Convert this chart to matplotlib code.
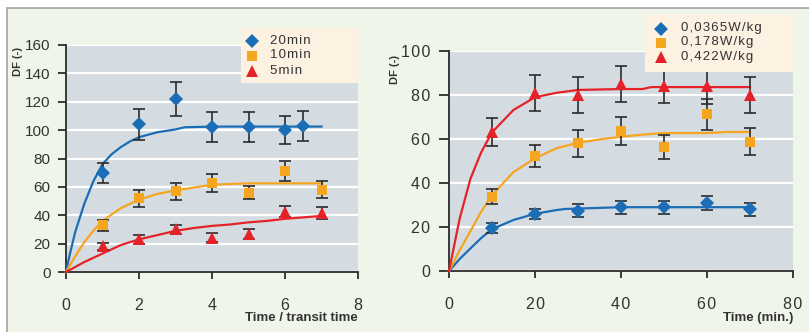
import numpy as np
import matplotlib.pyplot as plt
from matplotlib.patches import Rectangle

plt.rcParams['font.family'] = ['Liberation Sans', 'DejaVu Sans']

# ---------------- left panel: DF vs time / transit time ----------------
t_pts = [1, 2, 3, 4, 5, 6, 7]
t20 = [1, 2, 3, 4, 5, 6, 6.5]
df20 = [70, 104, 122, 102, 102, 100, 103]
err20 = [7, 11, 12, 10.5, 10.5, 10, 10.5]
df10 = [33, 52, 57, 63, 56, 71, 58]
err10 = [4, 6, 6, 6.3, 4.5, 7, 6]
df5 = [18, 23, 30, 24, 26.5, 42.5, 41.5]
err5 = [2.7, 3.3, 3.3, 3.2, 3.5, 4, 4]
labels_left = ['20min', '10min', '5min']

# fitted curves
c20_t = [0, 0.1, 0.25, 0.5, 0.75, 1, 1.25, 1.5, 1.75, 2, 2.5, 3, 3.25, 4, 5, 6, 7]
c20_y = [0, 12, 28, 48, 64, 76, 83, 88, 92, 95, 98.5, 100.5, 102, 102.5, 102.5, 102.5, 102.5]
c10_t = [0, 0.25, 0.5, 0.75, 1, 1.5, 2, 2.5, 3, 3.5, 4, 5, 6, 7]
c10_y = [0, 11, 21, 29, 36, 45, 51, 55, 57.5, 59.5, 61.5, 62.5, 62.5, 62.5]
c5_t = [0, 0.5, 1, 1.5, 2, 2.5, 3, 3.5, 4, 4.5, 5, 5.5, 6, 6.5, 7]
c5_y = [0, 7, 13, 19, 23, 26, 29, 31, 32.5, 33.5, 35, 36, 37.5, 38.5, 39.5]

# ---------------- right panel: DF vs time (min) ----------------
m_pts = [10, 20, 30, 40, 50, 60, 70]
dfa = [19.5, 26, 27.5, 29, 29, 30.8, 28]
erra = [2.4, 2.4, 2.9, 3, 2.9, 3.2, 2.8]
dfb = [33.8, 52.3, 58, 63.6, 56.5, 71.2, 58.8]
errb = [3.4, 5.2, 6, 6.2, 5.5, 7, 6]
dfc = [63.3, 81, 80, 85, 84.2, 84, 80]
errc = [6.3, 8.3, 8, 8.3, 8, 8, 8]
labels_right = ['0,0365W/kg', '0,178W/kg', '0,422W/kg']

ca_t = [0, 2.5, 5, 7.5, 10, 15, 20, 25, 27, 40, 70]
ca_y = [0, 5.5, 10.3, 15, 19, 23.2, 26, 27.7, 28.2, 29, 29]
cb_t = [0, 2.5, 5, 7.5, 10, 15, 20, 25, 30, 35, 40, 45, 50, 60, 65, 70]
cb_y = [0, 9.5, 18.2, 27, 34.5, 45, 51.2, 55.8, 58.3, 59.8, 61, 62, 62.7, 62.7, 63.2, 63.2]
cc_t = [0, 2.5, 5, 7.5, 10, 15, 20, 25, 30, 40, 45, 47, 70]
cc_y = [0, 24, 42, 54, 63, 73.2, 79, 81, 82.3, 82.7, 82.7, 83.6, 83.6]

blue = '#1b6db5'
orange = '#f6a51f'
red = '#e42228'
txt = '#333333'
bar_col = '#2b2b2b'
HS = '\u200a'  # hair space, for the wide letter spacing


def spaced(s):
    return HS.join(s)


fig = plt.figure(figsize=(8.09, 3.32), dpi=100)
fig.patch.set_facecolor('white')
fig.patches.append(Rectangle((7 / 809, -0.01), 1, 1 - 8 / 332 + 0.01,
                             transform=fig.transFigure, facecolor='#f0f5e9',
                             edgecolor='#a3a3a3', lw=1.2, zorder=-10))


def style_axes(ax, xticks, yticks, ypad, ylen, ysize, track=False):
    ax.set_facecolor('#d4dce2')
    for s in ['top', 'right']:
        ax.spines[s].set_visible(False)
    for s in ['left', 'bottom']:
        ax.spines[s].set_color(bar_col)
        ax.spines[s].set_linewidth(1.3)
    ax.set_xticks(xticks)
    ax.set_yticks(yticks)
    if track:
        ax.set_xticklabels([spaced(str(v)) for v in xticks])
        ax.set_yticklabels([spaced(str(v)) for v in yticks])
    ax.tick_params(axis='x', direction='out', length=5, width=1.3,
                   pad=14, labelsize=11.5, colors=bar_col, labelcolor=txt)
    ax.tick_params(axis='y', direction='out', length=ylen, width=1.3,
                   pad=ypad, labelsize=ysize, colors=bar_col, labelcolor=txt)
    ax.yaxis.grid(True, color='white', lw=1.6)
    ax.set_axisbelow(True)


def series(ax, x, y, err, cx, cy, color, marker, ms):
    ax.plot(cx, cy, color=color, lw=1.6, zorder=3, clip_on=False)
    ax.errorbar(x, y, yerr=err, fmt='none', ecolor=bar_col, elinewidth=1.2,
                capsize=4, capthick=1.2, zorder=4)
    ax.plot(x, y, linestyle='none', marker=marker, ms=ms, color=color,
            markeredgewidth=0, zorder=5)


def legend_box(box, rows, labels, markers, sizes, colors, mx, tx):
    # box in pixels: left, top, right, bottom
    l, t, r, b = box
    lax = fig.add_axes([l / 809, 1 - b / 332, (r - l) / 809, (b - t) / 332])
    lax.set_xlim(l, r)
    lax.set_ylim(b, t)
    lax.set_facecolor('#fdf1e2')
    lax.set_xticks([])
    lax.set_yticks([])
    for s in lax.spines.values():
        s.set_visible(False)
    for y, lab, m, s, c in zip(rows, labels, markers, sizes, colors):
        lax.plot([mx], [y], marker=m, ms=s, color=c, markeredgewidth=0)
        lax.text(tx, y, spaced(lab), ha='left', va='center', fontsize=9.5,
                 color=txt)


# left panel
ax1 = fig.add_axes([66 / 809, 1 - 272 / 332, 292 / 809, 227 / 332])
style_axes(ax1, [0, 2, 4, 6, 8], np.arange(0, 161, 20), 5, 6, 11)
ax1.set_xlim(0, 8)
ax1.set_ylim(0, 160)
series(ax1, t20, df20, err20, c20_t, c20_y, blue, 'D', 7)
series(ax1, t_pts, df10, err10, c10_t, c10_y, orange, 's', 7.5)
series(ax1, t_pts, df5, err5, c5_t, c5_y, red, '^', 8.5)
fig.text(18 / 809, 1 - 62 / 332, 'DF (-)', rotation=90, ha='center', va='center',
         fontsize=8, fontweight='bold', color=txt)
fig.text(358 / 809, 1 - 318 / 332, 'Time / transit time', ha='right', va='center',
         fontsize=9.5, fontweight='bold', color=txt)

# right panel
ax2 = fig.add_axes([449 / 809, 1 - 271 / 332, 344 / 809, 220 / 332])
style_axes(ax2, [0, 20, 40, 60, 80], np.arange(0, 101, 20), 6.5, 7, 11.5,
           track=True)
ax2.set_xlim(0, 80)
ax2.set_ylim(0, 100)
series(ax2, m_pts, dfa, erra, ca_t, ca_y, blue, 'D', 7)
series(ax2, m_pts, dfb, errb, cb_t, cb_y, orange, 's', 6.5)
series(ax2, m_pts, dfc, errc, cc_t, cc_y, red, '^', 9)
fig.text(395 / 809, 1 - 69 / 332, 'DF (-)', rotation=90, ha='center', va='center',
         fontsize=8, fontweight='bold', color=txt)
fig.text(793 / 809, 1 - 318 / 332, 'Time (min.)', ha='right', va='center',
         fontsize=9.5, fontweight='bold', color=txt)

# legends
legend_box((241, 28, 358, 83), [41, 55.5, 70.5], labels_left, ['D', 's', '^'],
           [7, 7.5, 8.5], [blue, orange, red], 252, 270)
legend_box((645, 15, 793, 72), [28.5, 42.5, 57], labels_right, ['D', 's', '^'],
           [7, 6.5, 9], [blue, orange, red], 661, 681)

fig.savefig('out.png', dpi=100)
